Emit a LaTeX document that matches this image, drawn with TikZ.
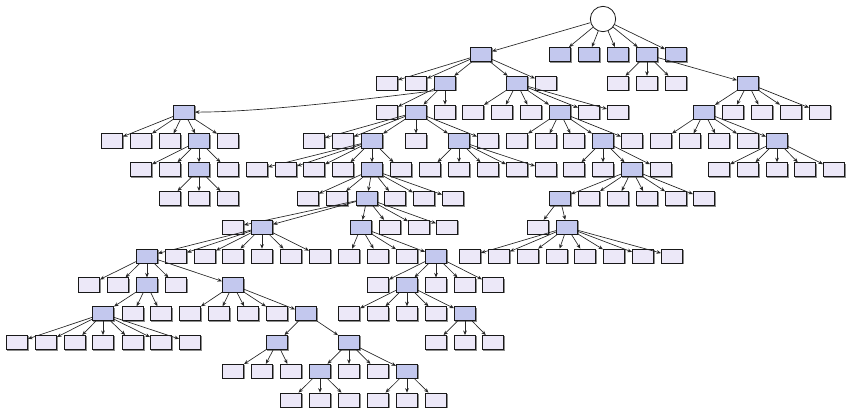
\documentclass[tikz,border=0pt]{standalone}
\usetikzlibrary{arrows.meta,shadows}
\definecolor{dkc}{HTML}{C3C8EE}
\definecolor{lfc}{HTML}{ECE8F8}
\tikzset{
  box/.style={rectangle,draw=black!90,line width=0.6pt,minimum width=15.9pt,minimum height=10.6pt,inner sep=0pt,
    general shadow={shadow xshift=0.7pt,shadow yshift=-0.7pt,fill=black!45}},
  edge/.style={draw=black!85,line width=0.5pt,-{Stealth[length=3.4pt,width=2.8pt]}},
  rootnode/.style={circle,draw=black!90,fill=white,line width=0.6pt,minimum size=19pt,inner sep=0pt}
}
\newcommand\treefam[3]{\foreach \xx/\ss in {#3} {%
  \node[box,fill=\ss] (L#2-\xx) at (\xx,{54.5+28.8*(#2-1)}) {};
  \draw[edge] (#1) -- (L#2-\xx);}}
\begin{document}
\begin{tikzpicture}[x=0.75pt,y=-0.75pt]
\useasboundingbox (0,0) rectangle (848,412);
\node[rootnode] (root) at (603,19) {};
% level 1
\treefam{root}{1}{481/dkc,560/dkc,589/dkc,618/dkc,647/dkc,676/dkc}
% level 2
\treefam{L1-481}{2}{387/lfc,416/lfc,445/dkc,517/dkc,546/lfc}
\treefam{L1-647}{2}{618/lfc,647/lfc,676/lfc,748/dkc}
% level 3
\node[box,fill=dkc] (L3-184) at (184,112.1) {};
\draw[edge] (L2-445.south west) .. controls (360,100) and (260,112) .. (L3-184.east);
\treefam{L2-445}{3}{387/lfc,416/dkc,445/lfc}
\treefam{L2-517}{3}{473/lfc,502/lfc,531/lfc,560/dkc,589/lfc,618/lfc}
\treefam{L2-748}{3}{704/dkc,733/lfc,762/lfc,791/lfc,820/lfc}
% level 4
\treefam{L3-184}{4}{112/lfc,141/lfc,170/lfc,199/dkc,228/lfc}
\treefam{L3-416}{4}{314/lfc,343/lfc,372/dkc,416/lfc,459/dkc,488/lfc}
\treefam{L3-560}{4}{517/lfc,546/lfc,574/lfc,603/dkc,632/lfc}
\treefam{L3-704}{4}{661/lfc,690/lfc,719/lfc,748/lfc,777/dkc}
% level 5
\treefam{L4-199}{5}{141/lfc,170/lfc,199/dkc,228/lfc}
\treefam{L4-372}{5}{257/lfc,286/lfc,314/lfc,343/lfc,372/dkc,401/lfc}
\treefam{L4-459}{5}{430/lfc,459/lfc,488/lfc,517/lfc,546/lfc}
\treefam{L4-603}{5}{574/lfc,603/lfc,632/dkc,661/lfc}
\treefam{L4-777}{5}{719/lfc,748/lfc,777/lfc,805/lfc,834/lfc}
% level 6
\treefam{L5-199}{6}{170/lfc,199/lfc,228/lfc}
\treefam{L5-372}{6}{308/lfc,337/lfc,367/dkc,395/lfc,424/lfc,453/lfc}
\treefam{L5-632}{6}{560/dkc,589/lfc,618/lfc,647/lfc,676/lfc,704/lfc}
% level 7
\treefam{L6-367}{7}{233/lfc,262/dkc,361/dkc,390/lfc,419/lfc,447/lfc}
\treefam{L6-560}{7}{538/lfc,567/dkc}
% level 8
\treefam{L7-262}{8}{147/dkc,176/lfc,205/lfc,233/lfc,262/lfc,291/lfc,320/lfc}
\treefam{L7-361}{8}{349/lfc,378/lfc,407/lfc,436/dkc}
\treefam{L7-567}{8}{470/lfc,499/lfc,528/lfc,557/lfc,585/lfc,614/lfc,643/lfc,672/lfc}
% level 9
\treefam{L8-147}{9}{89/lfc,118/lfc,147/dkc,176/lfc,233/dkc}
\treefam{L8-436}{9}{378/lfc,407/dkc,436/lfc,465/lfc,493/lfc}
% level 10
\treefam{L9-147}{10}{103/dkc,133/lfc,161/lfc}
\treefam{L9-233}{10}{190/lfc,219/lfc,248/lfc,277/lfc,306/dkc}
\treefam{L9-407}{10}{349/lfc,378/lfc,407/lfc,436/lfc,465/dkc}
% level 11
\treefam{L10-103}{11}{17/lfc,46/lfc,75/lfc,103/lfc,133/lfc,161/lfc,190/lfc}
\treefam{L10-306}{11}{277/dkc,349/dkc}
\treefam{L10-465}{11}{436/lfc,465/lfc,493/lfc}
% level 12
\treefam{L11-277}{12}{233/lfc,262/lfc,291/lfc}
\treefam{L11-349}{12}{320/dkc,349/lfc,378/lfc,407/dkc}
% level 13
\treefam{L12-320}{13}{291/lfc,320/lfc,349/lfc}
\treefam{L12-407}{13}{378/lfc,407/lfc,436/lfc}
\end{tikzpicture}
\end{document}
